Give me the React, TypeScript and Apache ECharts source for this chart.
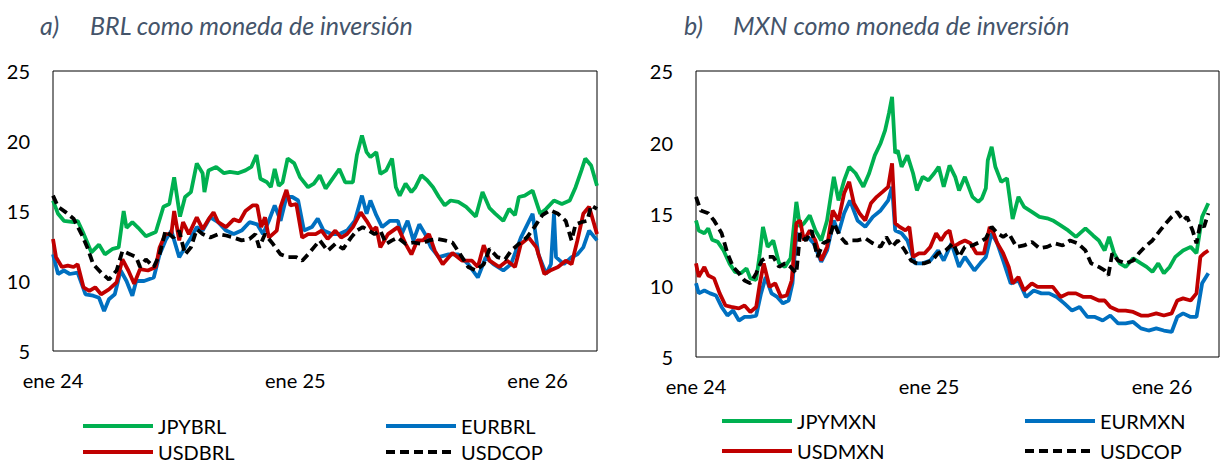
import React, { useEffect, useRef } from "react";
import * as echarts from "echarts";

// x values are months since January 2024
const X_TICK_LABELS = ["ene 24", "ene 25", "ene 26"];
const X_MAX_MONTHS = 26.94;
const TITLES_A = ["a)", "BRL como moneda de inversión"];
const TITLES_B = ["b)", "MXN como moneda de inversión"];
const NAMES_A = ["JPYBRL", "EURBRL", "USDBRL", "USDCOP"];
const NAMES_B = ["JPYMXN", "EURMXN", "USDMXN", "USDCOP"];

const JPYBRL: [number, number][] = [[0,15.75],[0.25,14.8],[0.54,14.3],[1.02,14.2],[1.22,14.3],[1.51,13.4],[1.9,12.05],[2.28,12.6],[2.57,11.9],[2.96,12.3],[3.25,12.4],[3.5,15.0],[3.64,13.8],[3.93,14.2],[4.22,13.8],[4.6,13.2],[5.09,13.5],[5.47,15.3],[5.76,15.5],[6.0,17.4],[6.29,14.6],[6.54,16.0],[6.83,16.35],[7.12,18.4],[7.41,17.7],[7.5,16.35],[7.7,17.9],[8.08,18.15],[8.47,17.7],[8.76,17.8],[9.15,17.7],[9.53,17.9],[9.82,18.15],[10.08,19.0],[10.27,17.3],[10.6,17.05],[10.79,16.7],[10.98,18.0],[11.18,16.8],[11.37,17.05],[11.62,18.75],[11.95,18.4],[12.24,17.4],[12.63,16.7],[12.92,16.95],[13.21,17.55],[13.5,16.6],[13.89,17.4],[14.18,18.0],[14.47,17.05],[14.85,17.05],[15.05,19.0],[15.3,20.4],[15.53,19.2],[15.72,18.85],[16.01,19.2],[16.21,17.65],[16.5,17.9],[16.79,18.75],[16.98,16.7],[17.17,16.1],[17.46,16.95],[17.75,16.35],[17.95,16.7],[18.24,17.55],[18.53,17.2],[18.82,16.7],[19.11,16.0],[19.4,15.4],[19.69,15.75],[20.07,15.65],[20.46,15.3],[20.94,14.6],[21.27,16.35],[21.62,15.2],[21.91,14.8],[22.3,14.3],[22.59,15.15],[22.88,14.7],[23.07,16.0],[23.36,16.1],[23.75,16.45],[24.13,14.8],[24.42,15.15],[24.81,15.75],[25.2,15.5],[25.59,15.75],[25.88,16.7],[26.17,17.9],[26.36,18.75],[26.65,18.25],[26.94,16.8]];

const EURBRL: [number, number][] = [[0,11.9],[0.25,10.5],[0.54,10.75],[0.83,10.5],[1.22,10.6],[1.61,9.05],[1.99,8.95],[2.28,8.8],[2.53,7.85],[2.77,8.7],[3.06,9.05],[3.35,10.75],[3.64,10.0],[3.93,8.95],[4.12,10.0],[4.51,10.0],[4.99,10.25],[5.28,11.9],[5.57,12.9],[5.86,13.6],[6.25,11.7],[6.54,12.4],[6.83,13.1],[7.12,13.85],[7.41,13.6],[7.79,14.55],[8.18,14.2],[8.57,13.6],[8.95,13.35],[9.34,13.6],[9.73,14.2],[10.11,14.05],[10.4,13.35],[10.69,14.3],[10.98,15.4],[11.27,14.3],[11.56,16.0],[11.85,16.0],[12.14,15.75],[12.43,13.6],[12.82,13.85],[13.11,14.45],[13.4,13.6],[13.79,13.35],[14.18,13.35],[14.56,13.6],[14.95,14.3],[15.3,16.1],[15.53,14.8],[15.72,15.75],[16.01,14.7],[16.3,13.85],[16.69,14.3],[17.08,14.3],[17.27,13.35],[17.56,14.3],[17.85,12.9],[18.14,14.05],[18.43,13.35],[18.72,12.4],[19.11,11.7],[19.59,11.9],[20.07,11.9],[20.56,11.2],[21.04,10.25],[21.43,11.7],[21.81,11.2],[22.3,10.75],[22.68,11.2],[23.17,13.1],[23.75,14.8],[24.04,11.9],[24.42,10.5],[24.66,11.2],[24.81,14.8],[24.91,11.7],[25.3,11.2],[25.68,11.7],[25.97,11.9],[26.26,12.4],[26.55,13.6],[26.94,12.9]];

const USDBRL: [number, number][] = [[0,13.0],[0.15,11.7],[0.44,11.0],[0.73,11.1],[1.02,11.0],[1.22,11.2],[1.51,9.55],[1.8,9.3],[2.09,9.55],[2.38,9.05],[2.77,9.4],[3.15,9.9],[3.44,11.55],[3.73,10.75],[4.02,9.8],[4.31,10.85],[4.7,10.75],[5.09,11.0],[5.28,12.4],[5.57,13.35],[5.86,13.35],[6.0,15.0],[6.25,12.9],[6.44,14.2],[6.73,13.35],[7.12,14.55],[7.41,13.7],[7.7,14.4],[7.95,14.9],[8.18,14.2],[8.57,13.85],[8.95,14.4],[9.24,14.25],[9.53,15.0],[9.88,15.4],[10.11,15.4],[10.31,13.85],[10.5,14.55],[10.69,13.1],[11.08,13.6],[11.27,15.3],[11.56,16.5],[11.76,15.4],[12.05,15.5],[12.34,13.1],[12.63,13.35],[13.01,13.35],[13.3,13.6],[13.6,13.0],[13.98,13.6],[14.27,13.1],[14.56,13.35],[14.85,13.85],[15.24,14.9],[15.53,14.3],[15.82,13.6],[16.01,13.85],[16.21,12.4],[16.59,13.35],[17.08,13.85],[17.46,12.65],[17.75,11.9],[18.04,12.9],[18.33,12.9],[18.62,13.35],[18.91,12.15],[19.3,11.2],[19.78,12.0],[20.27,11.45],[20.75,11.45],[21.04,11.0],[21.33,12.55],[21.62,11.45],[22.1,11.0],[22.49,11.45],[22.88,11.0],[23.17,12.65],[23.56,13.1],[23.94,12.4],[24.33,10.5],[24.62,10.75],[25.01,11.0],[25.39,11.45],[25.68,11.2],[25.97,12.9],[26.26,14.8],[26.55,15.3],[26.75,14.3],[26.94,13.35]];

const USDCOP_A: [number, number][] = [[0,16.1],[0.25,15.3],[0.64,14.9],[1.02,14.45],[1.41,13.35],[1.7,12.4],[1.99,11.2],[2.38,10.6],[2.77,10.1],[3.15,10.75],[3.44,12.15],[3.83,11.9],[4.12,11.7],[4.31,11.0],[4.6,11.55],[4.99,11.0],[5.28,11.9],[5.57,13.6],[5.96,13.1],[6.25,13.6],[6.54,11.9],[6.83,12.4],[7.12,13.7],[7.41,13.35],[7.79,13.1],[8.18,13.35],[8.57,13.25],[8.95,13.1],[9.34,12.9],[9.73,13.0],[10.02,13.35],[10.21,12.4],[10.5,13.35],[10.89,12.65],[11.27,11.9],[11.66,11.7],[12.05,11.7],[12.34,11.45],[12.63,11.9],[12.92,12.4],[13.21,12.9],[13.6,12.15],[13.98,12.65],[14.37,12.3],[14.76,13.1],[15.05,13.6],[15.34,13.85],[15.63,13.6],[15.92,13.35],[16.21,13.6],[16.5,12.65],[16.79,12.9],[17.08,13.1],[17.46,12.65],[17.85,12.75],[18.24,12.65],[18.62,12.9],[19.01,13.0],[19.4,12.9],[19.78,12.75],[20.17,11.9],[20.56,11.0],[20.94,10.75],[21.33,11.2],[21.62,12.3],[22.01,11.7],[22.39,11.55],[22.68,12.15],[23.07,12.65],[23.46,13.1],[23.84,13.85],[24.23,14.7],[24.62,15.05],[25.01,14.8],[25.39,14.3],[25.68,12.9],[25.88,14.05],[26.17,14.2],[26.46,14.3],[26.65,15.4],[26.94,15.15]];

const JPYMXN: [number, number][] = [[0,14.55],[0.14,13.85],[0.43,13.65],[0.63,14.0],[0.83,13.2],[1.12,13.05],[1.42,12.45],[1.72,11.55],[2.01,10.95],[2.31,10.85],[2.6,11.2],[2.8,10.5],[3.1,10.4],[3.29,12.25],[3.45,14.1],[3.69,12.7],[3.98,13.15],[4.28,11.55],[4.58,11.3],[4.87,11.9],[5.17,15.85],[5.36,14.1],[5.56,14.35],[5.86,14.9],[6.15,13.85],[6.45,13.15],[6.75,14.55],[7.1,17.6],[7.34,15.95],[7.63,17.35],[7.89,18.3],[8.22,17.85],[8.62,16.9],[8.92,17.85],[9.21,19.1],[9.51,19.95],[9.74,20.85],[9.94,22.05],[10.1,23.2],[10.26,19.25],[10.39,19.45],[10.59,18.3],[10.89,19.1],[11.18,17.85],[11.38,16.65],[11.68,17.6],[11.97,17.35],[12.27,17.85],[12.5,18.3],[12.76,16.9],[13.06,18.4],[13.35,17.6],[13.55,16.65],[13.85,17.6],[14.24,16.2],[14.54,15.85],[14.73,16.1],[14.93,16.8],[15.03,18.75],[15.23,19.7],[15.42,18.3],[15.72,17.25],[16.02,17.5],[16.31,14.65],[16.61,16.2],[16.9,15.5],[17.3,15.15],[17.69,14.8],[18.09,14.7],[18.38,14.55],[18.78,14.2],[19.17,13.85],[19.57,13.4],[20.06,14.0],[20.45,13.5],[20.75,13.15],[21.05,12.45],[21.28,13.4],[21.54,12.25],[21.83,11.55],[22.13,11.3],[22.52,11.9],[22.92,11.55],[23.21,11.3],[23.51,10.95],[23.81,11.55],[24.1,10.85],[24.4,11.3],[24.69,12.0],[25.09,12.45],[25.48,12.7],[25.78,12.25],[26.07,14.8],[26.39,15.75]];

const EURMXN: [number, number][] = [[0,10.15],[0.14,9.45],[0.43,9.65],[0.73,9.45],[1.03,9.3],[1.32,8.5],[1.62,7.9],[1.91,8.25],[2.21,7.55],[2.5,7.8],[2.8,7.8],[3.1,7.9],[3.35,9.45],[3.59,10.6],[3.89,9.45],[4.18,9.2],[4.48,8.75],[4.77,8.95],[4.97,10.15],[5.17,13.65],[5.46,13.4],[5.76,13.4],[6.06,12.95],[6.45,11.65],[6.75,12.45],[7.1,14.55],[7.34,13.65],[7.63,15.05],[7.93,15.95],[8.32,14.55],[8.72,14.1],[9.11,14.8],[9.51,15.25],[9.9,15.95],[10.1,16.9],[10.26,13.85],[10.59,13.65],[10.89,13.15],[11.28,11.55],[11.68,11.55],[12.07,11.75],[12.47,12.45],[12.76,11.75],[13.16,12.95],[13.55,11.3],[13.85,12.0],[14.34,11.05],[14.64,11.55],[14.93,12.0],[15.23,13.65],[15.52,12.95],[15.82,11.75],[16.21,10.15],[16.61,10.35],[17.0,9.2],[17.4,9.65],[17.79,9.45],[18.19,9.45],[18.58,9.2],[18.97,8.75],[19.37,8.25],[19.76,8.5],[20.16,7.8],[20.55,7.8],[20.95,7.55],[21.34,7.9],[21.74,7.35],[22.13,7.35],[22.52,7.45],[22.92,7.0],[23.31,6.85],[23.71,7.0],[24.1,6.85],[24.5,6.75],[24.79,7.8],[25.09,8.05],[25.48,7.8],[25.78,7.8],[26.07,10.15],[26.39,10.85]];

const USDMXN: [number, number][] = [[0,11.55],[0.14,10.6],[0.43,11.3],[0.63,10.7],[0.93,10.5],[1.22,9.45],[1.52,8.6],[1.81,8.5],[2.21,8.4],[2.5,8.6],[2.8,8.15],[3.1,8.5],[3.29,10.15],[3.49,11.55],[3.79,9.9],[4.08,10.15],[4.38,9.2],[4.67,9.3],[4.93,10.35],[5.17,14.35],[5.36,14.55],[5.56,13.15],[5.86,13.85],[6.15,13.15],[6.45,11.75],[6.75,12.7],[7.04,15.25],[7.34,14.55],[7.63,16.45],[7.89,17.25],[8.13,15.75],[8.42,15.05],[8.72,14.55],[9.01,15.75],[9.31,16.2],[9.61,16.55],[9.9,16.9],[10.1,18.55],[10.26,14.35],[10.49,14.1],[10.79,13.85],[10.99,14.1],[11.18,12.0],[11.48,12.25],[11.78,12.25],[12.07,12.7],[12.37,13.65],[12.62,13.15],[12.86,13.65],[13.06,13.85],[13.25,12.7],[13.55,12.95],[13.85,13.15],[14.14,12.95],[14.44,12.25],[14.83,12.25],[15.13,14.1],[15.33,13.65],[15.52,12.95],[15.82,12.25],[16.11,11.3],[16.31,10.15],[16.61,10.6],[16.9,9.65],[17.3,10.15],[17.59,9.9],[17.99,9.9],[18.38,9.9],[18.78,9.2],[19.17,9.45],[19.57,9.45],[19.96,9.2],[20.35,9.2],[20.75,8.95],[21.05,8.95],[21.34,8.5],[21.74,8.25],[22.13,8.25],[22.52,8.15],[22.92,7.9],[23.31,7.9],[23.71,8.05],[24.1,7.9],[24.5,8.05],[24.79,8.95],[25.09,9.1],[25.48,8.95],[25.78,9.45],[25.98,12.0],[26.17,12.25],[26.39,12.45]];

const USDCOP_B: [number, number][] = [[0,16.2],[0.24,15.25],[0.63,15.05],[0.93,14.55],[1.32,13.65],[1.62,12.25],[1.91,11.3],[2.21,10.85],[2.5,10.35],[2.8,10.15],[3.1,10.85],[3.39,11.75],[3.69,12.0],[3.98,12.0],[4.28,11.3],[4.58,11.55],[4.87,11.3],[5.17,10.85],[5.36,13.65],[5.66,13.15],[5.96,13.85],[6.25,12.0],[6.55,12.95],[6.84,13.15],[7.1,14.35],[7.44,13.4],[7.73,12.95],[8.03,13.15],[8.32,13.15],[8.72,13.3],[9.11,12.95],[9.51,12.7],[9.8,13.4],[10.1,12.7],[10.39,13.15],[10.69,12.6],[11.08,11.75],[11.38,11.55],[11.78,11.55],[12.17,11.75],[12.47,12.25],[12.86,12.45],[13.25,12.95],[13.55,12.0],[13.85,12.7],[14.24,12.8],[14.64,13.05],[14.93,13.3],[15.23,14.1],[15.52,13.65],[15.82,13.4],[16.11,13.65],[16.51,12.7],[16.9,12.8],[17.3,13.05],[17.69,12.6],[18.09,12.7],[18.48,12.95],[18.88,12.8],[19.27,13.15],[19.66,12.95],[20.06,12.45],[20.35,11.55],[20.75,11.3],[21.05,11.05],[21.24,10.7],[21.44,12.25],[21.74,11.75],[22.13,11.55],[22.52,11.75],[22.81,12.25],[23.12,12.7],[23.51,13.15],[23.91,13.85],[24.2,14.35],[24.5,14.8],[24.79,15.15],[25.09,14.55],[25.29,14.8],[25.58,13.85],[25.78,12.95],[25.98,14.35],[26.17,14.1],[26.39,15.05]];

const COLORS = ["#00B050", "#0070C0", "#C00000", "#000000"];
const FONT = "Lato";

export default function App() {
  const ref = useRef<HTMLDivElement>(null);
  useEffect(() => {
    if (!ref.current) return;
    const chart = echarts.init(ref.current, undefined, { renderer: "svg" });

    const xAxisCommon = (gridIndex: number) => ({
      type: "value" as const,
      gridIndex,
      min: 0,
      max: X_MAX_MONTHS,
      interval: 12,
      axisLine: { show: false },
      axisTick: { show: false },
      splitLine: { show: false },
      axisLabel: {
        margin: 19,
        fontFamily: FONT,
        fontSize: 20,
        color: "#000",
        formatter: (v: number) => {
          const i = v / 12;
          return Math.abs(i - Math.round(i)) < 1e-6 ? X_TICK_LABELS[Math.round(i)] ?? "" : "";
        },
      },
    });
    const yAxisCommon = (gridIndex: number) => ({
      type: "value" as const,
      gridIndex,
      min: 5,
      max: 25,
      interval: 5,
      axisLine: { show: false },
      axisTick: { show: false },
      splitLine: { show: false },
      axisLabel: { margin: 23, fontFamily: FONT, fontSize: 20, color: "#000" },
    });

    const mkSeries = (name: string, data: [number, number][], idx: number, color: string, dashed: boolean) => ({
      name,
      type: "line" as const,
      xAxisIndex: idx,
      yAxisIndex: idx,
      data,
      symbol: "none",
      lineStyle: { color, width: 3.8, type: dashed ? [9, 5] : "solid" },
      itemStyle: { color },
      emphasis: { disabled: true },
    });

    const seriesA = [JPYBRL, EURBRL, USDBRL, USDCOP_A];
    const seriesB = [JPYMXN, EURMXN, USDMXN, USDCOP_B];

    const legendPos = [
      { a: [81, 416], b: [720, 411] },
      { a: [384, 416], b: [1023, 411] },
      { a: [81, 442], b: [720, 441] },
      { a: [384, 442], b: [1023, 441] },
    ];
    const legendBase = {
      padding: 0,
      itemWidth: 70,
      itemHeight: 18,
      itemGap: 5,
      selectedMode: false,
      itemStyle: { opacity: 0 },
      lineStyle: { width: 4 },
      textStyle: { fontFamily: FONT, fontSize: 20, color: "#000" },
    };
    const legends: any[] = [];
    NAMES_A.forEach((n, i) => {
      legends.push({ ...legendBase, data: [n], left: legendPos[i].a[0], top: legendPos[i].a[1] });
    });
    NAMES_B.forEach((n, i) => {
      legends.push({ ...legendBase, data: [n], left: legendPos[i].b[0], top: legendPos[i].b[1] });
    });

    const titleStyle = { fontFamily: FONT, fontSize: 25, fontStyle: "italic", fill: "#44546A" };

    chart.setOption({
      animation: false,
      backgroundColor: "#fff",
      grid: [
        { left: 53, top: 71, width: 544, height: 280, show: true, borderColor: "#000", borderWidth: 1, containLabel: false },
        { left: 696, top: 71, width: 539, height: 286, show: true, borderColor: "#000", borderWidth: 1, containLabel: false },
      ],
      xAxis: [xAxisCommon(0), xAxisCommon(1)],
      yAxis: [yAxisCommon(0), yAxisCommon(1)],
      legend: legends,
      graphic: [
        { type: "text", left: 40, top: 12, style: { ...titleStyle, text: TITLES_A[0] } },
        { type: "text", left: 90, top: 12, style: { ...titleStyle, text: TITLES_A[1] } },
        { type: "text", left: 684, top: 12, style: { ...titleStyle, text: TITLES_B[0] } },
        { type: "text", left: 733, top: 12, style: { ...titleStyle, text: TITLES_B[1] } },
      ],
      series: [
        ...seriesA.map((d, i) => mkSeries(NAMES_A[i], d, 0, COLORS[i], i === 3)),
        ...seriesB.map((d, i) => mkSeries(NAMES_B[i], d, 1, COLORS[i], i === 3)),
      ],
    });
    return () => chart.dispose();
  }, []);
  return (
    <div
      ref={ref}
      style={{ position: "fixed", left: 0, top: 0, width: 1222, height: 464, background: "#fff" }}
    />
  );
}
